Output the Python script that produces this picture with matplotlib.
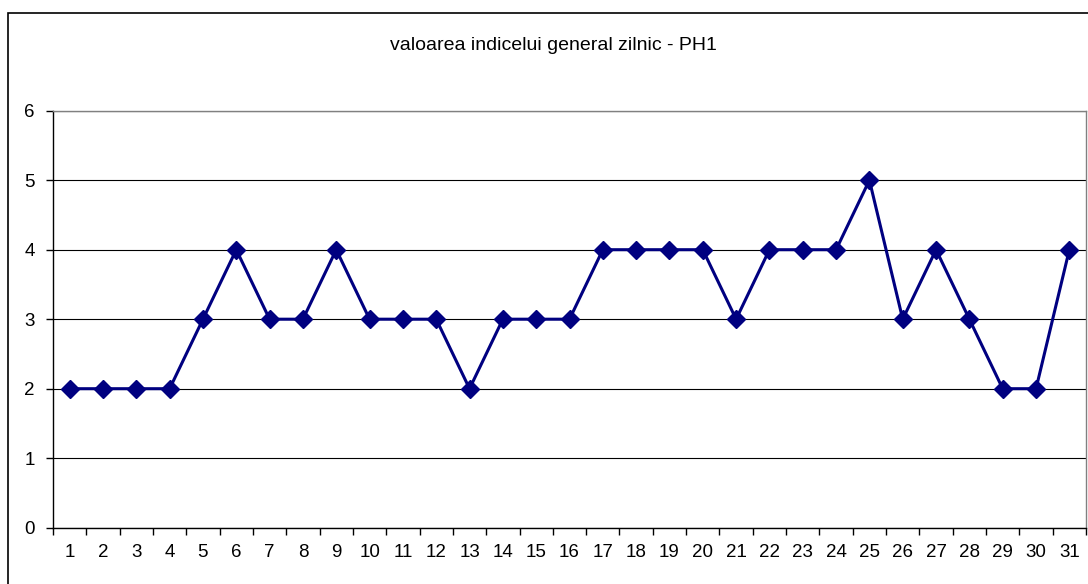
import matplotlib
matplotlib.use("Agg")
import matplotlib.pyplot as plt
from matplotlib.patches import Rectangle
from matplotlib.ticker import FixedLocator, NullFormatter

plt.rcParams['font.family'] = ['Liberation Sans', 'DejaVu Sans']

days = list(range(1, 32))
values = [2, 2, 2, 2, 3, 4, 3, 3, 4, 3, 3, 3, 2, 3, 3, 3,
          4, 4, 4, 4, 3, 4, 4, 4, 5, 3, 4, 3, 2, 2, 4]
title = "valoarea indicelui general zilnic - PH1"

W, H = 1088, 584
fig = plt.figure(figsize=(W / 100, H / 100), dpi=100, facecolor="white")

# outer chart border (cut by the image on right and bottom)
fig.patches.append(Rectangle((8 / W, -0.1), 1.2, (H - 13.5) / H + 0.1,
                             transform=fig.transFigure, fill=False,
                             edgecolor="black", linewidth=1.2))

ax = fig.add_axes([53 / W, 56.3 / H, (1086 - 53) / W, 417 / H])
ax.plot(days, values, color="#000080", linewidth=2.2, marker="D",
        markersize=9, markerfacecolor="#000080", markeredgecolor="#000080",
        zorder=3)

ax.set_xlim(0.5, 31.5)
ax.set_ylim(0, 6)
ax.set_yticks(range(0, 7))
ax.yaxis.grid(True, color="black", linewidth=0.8)
ax.set_axisbelow(True)

ax.set_xticks(days)
ax.set_xticklabels([str(d) for d in days])
ax.xaxis.set_minor_locator(FixedLocator([d + 0.5 for d in range(0, 32)]))
ax.xaxis.set_minor_formatter(NullFormatter())
ax.tick_params(axis="x", which="major", length=0, pad=12, labelsize=13.5)
ax.tick_params(axis="x", which="minor", length=5, width=1, direction="out")
ax.tick_params(axis="y", length=5, width=1, direction="out", pad=8, labelsize=13.5)

for s in ["top", "right"]:
    ax.spines[s].set_color("#808080")
    ax.spines[s].set_linewidth(1)
for s in ["left", "bottom"]:
    ax.spines[s].set_color("black")
    ax.spines[s].set_linewidth(1)

fig.text(553 / W, 1 - 45 / H, title, ha="center", va="center", fontsize=14)

fig.savefig("out.png", dpi=100, facecolor="white")
